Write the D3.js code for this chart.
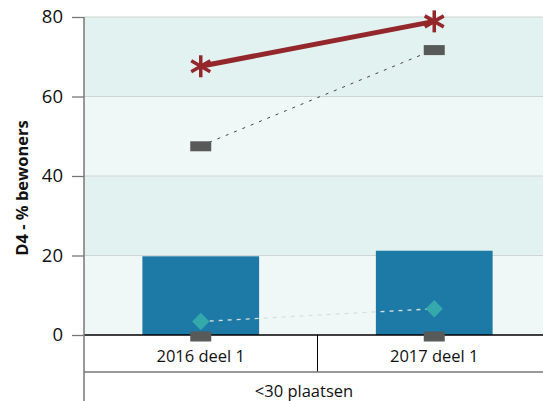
<!DOCTYPE html>
<html>
<head>
<meta charset="utf-8">
<script src="https://cdn.jsdelivr.net/npm/d3@7"></script>
<style>
  body { margin: 0; background: #fff; }
  text { font-family: "Open Sans", sans-serif; fill: #111; }
</style>
</head>
<body>
<svg id="chart" width="543" height="401"></svg>
<script>
const categories = ['2016 deel 1', '2017 deel 1'];
const groupLabel = '<30 plaatsen';
const barValues = [19.8, 21.2];
const redValues = [67.6, 78.9];
const greyValues = [47.6, 71.8];
const greyBottom = [0, 0];
const tealValues = [3.4, 6.6];
const yTicks = [0, 20, 40, 60, 80];

const width = 543;
const height = 401;
const plotLeft = 84;
const plotRight = 551;
const plotTop = 17;
const plotBottom = 335;

const svg = d3.select('#chart');

const xscale = d3.scaleBand()
  .domain(categories)
  .range([plotLeft, plotRight]);

const yscale = d3.scaleLinear()
  .domain([0, 80])
  .range([plotBottom, plotTop]);

// background bands
const bands = d3.range(0, 80, 20);
svg.append('g')
  .selectAll('rect')
  .data(bands)
  .enter()
  .append('rect')
  .attr('x', plotLeft)
  .attr('y', (d) => yscale(d + 20))
  .attr('width', plotRight - plotLeft)
  .attr('height', (d) => yscale(d) - yscale(d + 20))
  .attr('fill', (d, i) => i % 2 === 0 ? '#f0f8f7' : '#e2f2f1');

// gridlines
svg.append('g')
  .selectAll('line')
  .data(yTicks.slice(1))
  .enter()
  .append('line')
  .attr('x1', plotLeft)
  .attr('x2', plotRight)
  .attr('y1', (d) => yscale(d))
  .attr('y2', (d) => yscale(d))
  .attr('stroke', '#d0d4d4')
  .attr('stroke-width', 1.2);

// bars
const barW = xscale.bandwidth() * 0.5;
svg.append('g')
  .selectAll('rect')
  .data(barValues)
  .enter()
  .append('rect')
  .attr('x', (d, i) => xscale(categories[i]) + xscale.bandwidth() / 2 - barW / 2)
  .attr('y', (d) => yscale(d))
  .attr('width', barW)
  .attr('height', (d) => yscale(0) - yscale(d))
  .attr('fill', '#1d79a5');

const cx = (i) => xscale(categories[i]) + xscale.bandwidth() / 2;

// teal dotted line + diamonds
svg.append('path')
  .datum(tealValues)
  .attr('d', d3.line().x((d, i) => cx(i)).y((d) => yscale(d)))
  .attr('fill', 'none')
  .attr('stroke', '#d8dede')
  .attr('stroke-width', 1.3)
  .attr('stroke-dasharray', '4,5');

svg.append('g')
  .selectAll('path')
  .data(tealValues)
  .enter()
  .append('path')
  .attr('d', d3.symbol(d3.symbolSquare, 150))
  .attr('transform', (d, i) => `translate(${cx(i)},${yscale(d)}) rotate(45)`)
  .attr('fill', '#34a9ab');

// grey dotted line + dash markers
svg.append('path')
  .datum(greyValues)
  .attr('d', d3.line().x((d, i) => cx(i)).y((d) => yscale(d)))
  .attr('fill', 'none')
  .attr('stroke', '#444')
  .attr('stroke-width', 1)
  .attr('stroke-dasharray', '3,6');

const dash = (vals) => svg.append('g')
  .selectAll('rect')
  .data(vals)
  .enter()
  .append('rect')
  .attr('x', (d, i) => cx(i) - 10.5)
  .attr('y', (d) => yscale(d) - 4.5)
  .attr('width', 21)
  .attr('height', 10)
  .attr('fill', '#585a5a');

dash(greyValues);

// red line + asterisks
svg.append('path')
  .datum(redValues)
  .attr('d', d3.line().x((d, i) => cx(i)).y((d) => yscale(d)))
  .attr('fill', 'none')
  .attr('stroke', '#94272b')
  .attr('stroke-width', 5);

const star = svg.append('g')
  .selectAll('g')
  .data(redValues)
  .enter()
  .append('g')
  .attr('transform', (d, i) => `translate(${cx(i)},${yscale(d)})`);
[0, 60, 120].forEach((a) => {
  star.append('line')
    .attr('x1', 0).attr('y1', -11)
    .attr('x2', 0).attr('y2', 11)
    .attr('transform', `rotate(${a})`)
    .attr('stroke', '#94272b')
    .attr('stroke-width', 3.5);
});

// x axis line at 0
svg.append('line')
  .attr('x1', plotLeft).attr('x2', plotRight)
  .attr('y1', yscale(0)).attr('y2', yscale(0))
  .attr('stroke', '#000')
  .attr('stroke-width', 1.5);

dash(greyBottom).attr('y', (d) => yscale(d) - 3.5);

// left axis
const leftAxis = d3.axisLeft(yscale)
  .tickValues(yTicks)
  .tickSize(12)
  .tickPadding(9);

const ax = svg.append('g')
  .attr('transform', `translate(${plotLeft}, 0)`)
  .call(leftAxis);
ax.select('.domain').remove();
ax.selectAll('line').attr('stroke', '#777').attr('stroke-width', 1.3);
ax.selectAll('text').style('font-size', '18.5px').attr('fill', '#111');

svg.append('line')
  .attr('x1', plotLeft).attr('x2', plotLeft)
  .attr('y1', plotTop).attr('y2', height)
  .attr('stroke', '#777')
  .attr('stroke-width', 1.5);

// category labels
svg.append('g')
  .selectAll('text')
  .data(categories)
  .enter()
  .append('text')
  .attr('x', (d, i) => cx(i))
  .attr('y', 362)
  .attr('text-anchor', 'middle')
  .style('font-size', '16.5px')
  .text((d) => d);

// separators
svg.append('line')
  .attr('x1', xscale(categories[1])).attr('x2', xscale(categories[1]))
  .attr('y1', yscale(0)).attr('y2', 372)
  .attr('stroke', '#000');

svg.append('line')
  .attr('x1', plotLeft).attr('x2', plotRight)
  .attr('y1', 372).attr('y2', 372)
  .attr('stroke', '#777')
  .attr('stroke-width', 1.3);

svg.append('text')
  .attr('x', 304)
  .attr('y', 397)
  .attr('text-anchor', 'middle')
  .style('font-size', '16.5px')
  .text(groupLabel);

// y title
svg.append('text')
  .attr('transform', 'translate(28, 188) rotate(-90)')
  .attr('text-anchor', 'middle')
  .style('font-size', '16.5px')
  .style('font-weight', 'bold')
  .text('D4 - % bewoners');
</script>
</body>
</html>
